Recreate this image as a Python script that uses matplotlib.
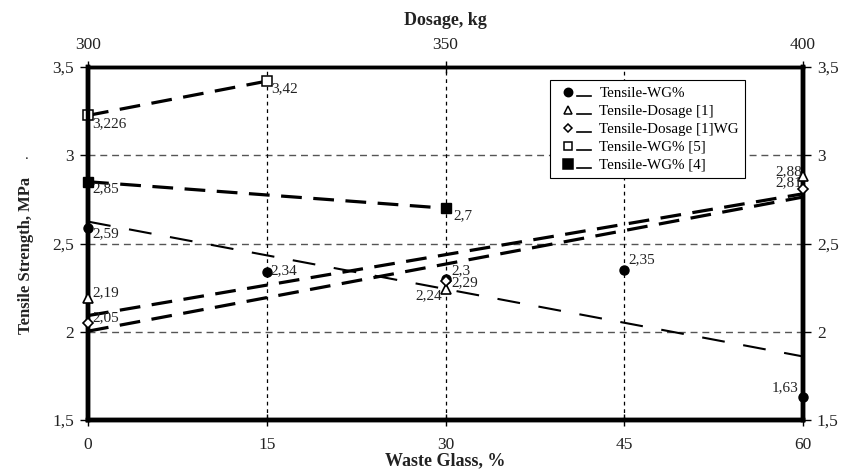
import matplotlib
matplotlib.use("Agg")
import matplotlib.pyplot as plt
import numpy as np
from matplotlib.lines import Line2D
from matplotlib.legend_handler import HandlerBase

plt.rcParams['font.family'] = ['Liberation Serif', 'DejaVu Serif']

# waste glass content, %
wg = [0, 15, 30, 45, 60]
tensile_wg = [2.59, 2.34, 2.3, 2.35, 1.63]

# cement dosage, kg
dosage = [300, 350, 400]
tensile_dos = [2.19, 2.24, 2.88]
tensile_dos_wg = [2.05, 2.29, 2.81]

wg5 = [0, 15]
tensile_wg5 = [3.226, 3.42]
wg4 = [0, 30]
tensile_wg4 = [2.85, 2.7]

lbl_wg = ['2,59', '2,34', '2,3', '2,35', '1,63']
lbl_dos = ['2,19', '2,24', '2,88']
lbl_dos_wg = ['2,05', '2,29', '2,81']
lbl_wg5 = ['3,226', '3,42']
lbl_wg4 = ['2,85', '2,7']

fig = plt.figure(figsize=(8.49, 4.71), dpi=100)
ax = fig.add_axes([0.1037, 0.1083, 0.8421, 0.7494])
ax.set_xlim(0, 60)
ax.set_ylim(1.5, 3.5)
top = ax.twiny()
top.set_xlim(300, 400)

thick = dict(color='black', lw=2.3, dashes=(6.5, 3.6))

# measured points (WG%) with a linear trend
ax.plot(wg, tensile_wg, 'o', color='black', ms=6.5, zorder=5, clip_on=False)
k, b = np.polyfit(wg, tensile_wg, 1)
xs = np.array([0, 60])
ax.plot(xs, k * xs + b, color='black', lw=1.5, dashes=(11, 9))

# dosage series with linear trends
top.plot(dosage, tensile_dos, '^', mfc='white', mec='black', ms=6.5, mew=1.2,
         zorder=5, clip_on=False)
top.plot(dosage, tensile_dos_wg, 'D', mfc='white', mec='black', ms=5, mew=1.2,
         zorder=5, clip_on=False)
ds = np.array([300, 400])
k1, b1 = np.polyfit(dosage, tensile_dos, 1)
k2, b2 = np.polyfit(dosage, tensile_dos_wg, 1)
top.plot(ds, k1 * ds + b1, **thick)
top.plot(ds, k2 * ds + b2, **thick)

# literature data
ax.plot(wg5, tensile_wg5, **thick)
ax.plot(wg5, tensile_wg5, 's', mfc='white', mec='black', ms=7, mew=1.1,
        zorder=5, clip_on=False)
ax.plot(wg4, tensile_wg4, **thick)
ax.plot(wg4, tensile_wg4, 's', color='black', ms=7.5, zorder=5, clip_on=False)

# value labels
fs = 11
def put(a, xv, yv, txt, dx, dy, ha='left'):
    a.annotate(txt, (xv, yv), xytext=(dx, dy), textcoords='offset pixels',
               ha=ha, va='center', fontsize=fs, color='#222222', zorder=6)

wg_off = [(4, -6, 'left'), (4, 1, 'left'), (6, 8, 'left'), (4, 10, 'left'), (-5, 9, 'right')]
for xv, yv, t, (dx, dy, ha) in zip(wg, tensile_wg, lbl_wg, wg_off):
    put(ax, xv, yv, t, dx, dy, ha)
dos_off = [(4, 6, 'left'), (-3, -6, 'right'), (-1, 5, 'right')]
for xv, yv, t, (dx, dy, ha) in zip(dosage, tensile_dos, lbl_dos, dos_off):
    put(top, xv, yv, t, dx, dy, ha)
doswg_off = [(4, 5, 'left'), (6, -2, 'left'), (-1, 6, 'right')]
for xv, yv, t, (dx, dy, ha) in zip(dosage, tensile_dos_wg, lbl_dos_wg, doswg_off):
    put(top, xv, yv, t, dx, dy, ha)
for xv, yv, t in zip(wg5, tensile_wg5, lbl_wg5):
    put(ax, xv, yv, t, 4, -8)
for xv, yv, t, dx in zip(wg4, tensile_wg4, lbl_wg4, [4, 8]):
    put(ax, xv, yv, t, dx, -7)

# grid
for yv in [2, 2.5, 3]:
    ax.axhline(yv, color='#555555', lw=1, dashes=(5, 3.5), zorder=0)
for xv in [15, 30, 45]:
    ax.axvline(xv, color='black', lw=0.9, dashes=(3, 3), zorder=0)

# axes and ticks
ax.set_xticks(wg)
ax.set_yticks([1.5, 2, 2.5, 3, 3.5])
ax.set_yticklabels(['1,5', '2', '2,5', '3', '3,5'])
ax.tick_params(axis='y', direction='out', length=6, width=1, right=True,
               labelright=True, labelsize=12.5, pad=4, labelcolor='#222222')
ax.tick_params(axis='x', direction='inout', length=8, width=1, labelsize=12.5,
               pad=8, labelcolor='#222222')
top.set_xticks(dosage)
top.tick_params(axis='x', direction='inout', length=8, width=1, labelsize=12.5,
                pad=6, labelcolor='#222222')
for a in (ax, top):
    for side in ['left', 'right', 'bottom']:
        a.spines[side].set_linewidth(3.2)
    a.spines['top'].set_linewidth(2.5)

ax.set_xlabel('Waste Glass, %', fontsize=13, fontweight='bold', labelpad=0, color='#222222')
ax.set_ylabel('Tensile Strength, MPa', fontsize=12, fontweight='bold', color='#222222')
ax.yaxis.set_label_coords(-0.076, 0.467)
top.set_xlabel('Dosage, kg', fontsize=13, fontweight='bold', labelpad=9, color='#222222')
fig.text(0.032, 0.67, '.', fontsize=11, color='#222222', ha='center', va='center')


# legend entries: marker followed by a short underline
class MarkUnder(HandlerBase):
    def create_artists(self, legend, orig, xd, yd, w, h, fontsize, trans):
        m = Line2D([xd + w * 0.35], [yd + h * 0.5], marker=orig.get_marker(),
                   mfc=orig.get_markerfacecolor(), mec='black',
                   ms=orig.get_markersize(), mew=1.1, ls='none', transform=trans)
        ln = Line2D([xd + w * 0.6, xd + w * 0.98], [yd + h * 0.05, yd + h * 0.05],
                    color='black', lw=1.2, transform=trans)
        return [m, ln]


handles = [
    Line2D([], [], marker='o', mfc='black', ms=6),
    Line2D([], [], marker='^', mfc='white', ms=6),
    Line2D([], [], marker='D', mfc='white', ms=4.5),
    Line2D([], [], marker='s', mfc='white', ms=6),
    Line2D([], [], marker='s', mfc='black', ms=6.5),
]
names = ['Tensile-WG%', 'Tensile-Dosage [1]', 'Tensile-Dosage [1]WG',
         'Tensile-WG% [5]', 'Tensile-WG% [4]']
leg = ax.legend(handles, names, handler_map={Line2D: MarkUnder()},
                loc='upper left', bbox_to_anchor=(0.646, 0.962), fontsize=10.8,
                frameon=True, fancybox=False, edgecolor='black', framealpha=1,
                handlelength=2.4, labelspacing=0.3, borderpad=0.4,
                handletextpad=0.5, borderaxespad=0)
leg.get_frame().set_linewidth(0.8)
leg.set_zorder(10)

fig.savefig('out.png', dpi=100)
